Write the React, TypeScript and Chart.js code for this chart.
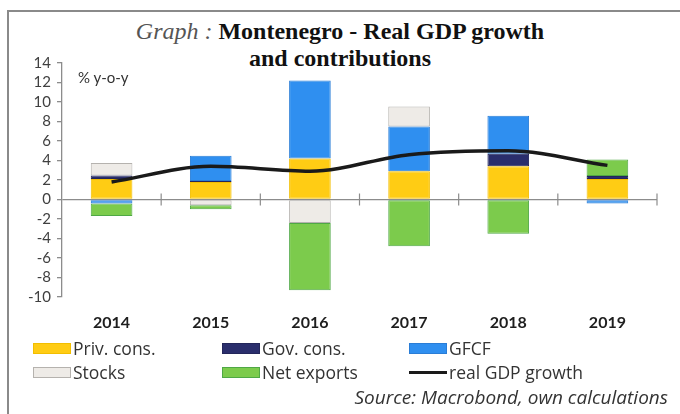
import React, { useEffect, useRef } from "react";
import { Chart, registerables } from "chart.js";

Chart.register(...registerables);

const categories = ["2014", "2015", "2016", "2017", "2018", "2019"];
const privCons = [2.1, 1.8, 4.2, 2.9, 3.4, 2.1];
const govCons = [0.35, 0.1, 0, 0, 1.3, 0.3];
const gfcf = [-0.4, 2.6, 8.0, 4.6, 3.9, -0.4];
const stocks = [1.3, -0.6, -2.4, 2.05, 0, 0];
const netExports = [-1.3, -0.4, -6.9, -4.8, -3.5, 1.7];
const gdpGrowth = [1.8, 3.4, 2.9, 4.6, 5.0, 3.5];
const yTicks = [14, 12, 10, 8, 6, 4, 2, 0, -2, -4, -6, -8, -10];

const COLORS = {
  priv: "#FFCC14",
  privB: "#F2BE00",
  gov: "#2A2E6C",
  govB: "#23265A",
  gfcf: "#2F8FF0",
  gfcfB: "#2A7DD6",
  stocks: "#EEEBE7",
  stocksB: "#B5B2AE",
  net: "#7CCB4C",
  netB: "#4FA845",
  line: "#1a1a1a",
};

const zeroTicksPlugin = {
  id: "zeroTicks",
  beforeDatasetsDraw(chart: any) {
    const x = chart.scales.x;
    const y = chart.scales.y;
    const ctx = chart.ctx;
    const y0 = y.getPixelForValue(0);
    const step = x.getPixelForValue(1) - x.getPixelForValue(0);
    ctx.save();
    ctx.strokeStyle = "#8c8c8c";
    ctx.lineWidth = 1.2;
    for (let i = 1; i <= categories.length; i++) {
      const px = x.getPixelForValue(i - 1) + step / 2;
      ctx.beginPath();
      ctx.moveTo(px, y0 - 6);
      ctx.lineTo(px, y0 + 6);
      ctx.stroke();
    }
    ctx.restore();
  },
};

function ChartCanvas() {
  const ref = useRef<HTMLCanvasElement | null>(null);
  useEffect(() => {
    if (!ref.current) return;
    const bar = (label: string, data: number[], bg: string, bd: string) => ({
      type: "bar" as const,
      label,
      data,
      backgroundColor: bg,
      borderColor: bd,
      borderWidth: 1,
      borderSkipped: false,
      stack: "s",
      order: 1,
      barPercentage: 0.42,
      categoryPercentage: 1,
    });
    const chart = new Chart(ref.current, {
      type: "bar",
      data: {
        labels: categories,
        datasets: [
          bar("Priv. cons.", privCons, COLORS.priv, COLORS.privB),
          bar("Gov. cons.", govCons, COLORS.gov, COLORS.govB),
          bar("GFCF", gfcf, COLORS.gfcf, COLORS.gfcfB),
          bar("Stocks", stocks, COLORS.stocks, COLORS.stocksB),
          bar("Net exports", netExports, COLORS.net, COLORS.netB),
          {
            type: "line" as const,
            label: "real GDP growth",
            data: gdpGrowth,
            borderColor: COLORS.line,
            borderWidth: 3.5,
            pointRadius: 0,
            tension: 0.3,
            cubicInterpolationMode: "monotone",
            order: 0,
            fill: false,
          } as any,
        ],
      },
      options: {
        animation: false,
        responsive: false,
        maintainAspectRatio: false,
        layout: { padding: { left: 8, right: 23, top: 63, bottom: 77 } },
        plugins: {
          legend: { display: false },
          title: { display: false },
          tooltip: { enabled: false },
        },
        scales: {
          x: {
            stacked: true,
            grid: { display: false, drawTicks: false },
            border: { display: false },
            ticks: {
              padding: 16,
              color: "#1e1e1e",
              font: { family: "Lato", size: 16, weight: "bold" },
            },
            afterFit: (s: any) => {
              s.height = 40;
            },
          },
          y: {
            stacked: true,
            min: -10,
            max: 14,
            afterBuildTicks: (s: any) => {
              s.ticks = yTicks.map((v) => ({ value: v }));
            },
            grid: {
              color: (c: any) => (c.tick && c.tick.value === 0 ? "#8c8c8c" : "rgba(0,0,0,0)"),
              lineWidth: 1.3,
              tickColor: "#8c8c8c",
              tickLength: 5,
              drawTicks: true,
            },
            border: { display: true, color: "#8c8c8c", width: 1.3 },
            ticks: {
              autoSkip: false,
              padding: 6,
              color: "#404040",
              font: { family: "Lato", size: 15 },
            },
            afterFit: (s: any) => {
              s.width = 54;
            },
          },
        },
      } as any,
      plugins: [zeroTicksPlugin],
    });
    return () => chart.destroy();
  }, []);
  return (
    <canvas
      ref={ref}
      width={680}
      height={414}
      style={{ position: "absolute", left: 0, top: 0, width: 680, height: 414 }}
    />
  );
}

const legendItems = [
  { label: "Priv. cons.", bg: COLORS.priv, bd: COLORS.privB, x: 33, y: 348, line: false },
  { label: "Gov. cons.", bg: COLORS.gov, bd: COLORS.govB, x: 222, y: 348, line: false },
  { label: "GFCF", bg: COLORS.gfcf, bd: COLORS.gfcfB, x: 409, y: 348, line: false },
  { label: "Stocks", bg: COLORS.stocks, bd: COLORS.stocksB, x: 33, y: 372, line: false },
  { label: "Net exports", bg: COLORS.net, bd: COLORS.netB, x: 222, y: 372, line: false },
  { label: "real GDP growth", bg: COLORS.line, bd: COLORS.line, x: 409, y: 372, line: true },
];

export default function App() {
  return (
    <div
      style={{
        position: "absolute",
        left: 0,
        top: 0,
        width: 680,
        height: 414,
        background: "#fff",
        overflow: "hidden",
      }}
    >
      <div
        style={{
          position: "absolute",
          left: 7,
          top: 10,
          width: 700,
          height: 420,
          borderTop: "2px solid #8a8a8a",
          borderLeft: "2px solid #8a8a8a",
          boxSizing: "border-box",
        }}
      />
      <div
        style={{
          position: "absolute",
          left: 0,
          top: 18,
          width: 680,
          textAlign: "center",
          fontFamily: "'Liberation Serif', serif",
          fontSize: 24,
          lineHeight: "27px",
          color: "#111",
        }}
      >
        <div>
          <span style={{ fontStyle: "italic", color: "#555" }}>Graph : </span>
          <span style={{ fontWeight: "bold" }}>Montenegro - Real GDP growth</span>
        </div>
        <div style={{ fontWeight: "bold" }}>and contributions</div>
      </div>
      <ChartCanvas />
      <div
        style={{
          position: "absolute",
          left: 78,
          top: 68,
          fontFamily: "Lato, sans-serif",
          fontSize: 15,
          color: "#333",
        }}
      >
        % y-o-y
      </div>
      {legendItems.map((it) => (
        <div
          key={it.label}
          style={{
            position: "absolute",
            left: it.x,
            top: it.y - 11,
            height: 22,
            display: "flex",
            alignItems: "center",
            fontFamily: "'Open Sans', sans-serif",
            fontSize: 17.5,
            color: "#333",
            whiteSpace: "nowrap",
          }}
        >
          <span
            style={{
              display: "inline-block",
              width: 38,
              height: it.line ? 3 : 11,
              background: it.bg,
              border: it.line ? "none" : `1px solid ${it.bd}`,
              boxSizing: "border-box",
              marginRight: 2,
            }}
          />
          {it.label}
        </div>
      ))}
      <div
        style={{
          position: "absolute",
          right: 12,
          top: 384,
          fontFamily: "'Open Sans', sans-serif",
          fontStyle: "italic",
          fontSize: 19,
          color: "#333",
          whiteSpace: "nowrap",
        }}
      >
        Source: Macrobond, own calculations
      </div>
    </div>
  );
}
